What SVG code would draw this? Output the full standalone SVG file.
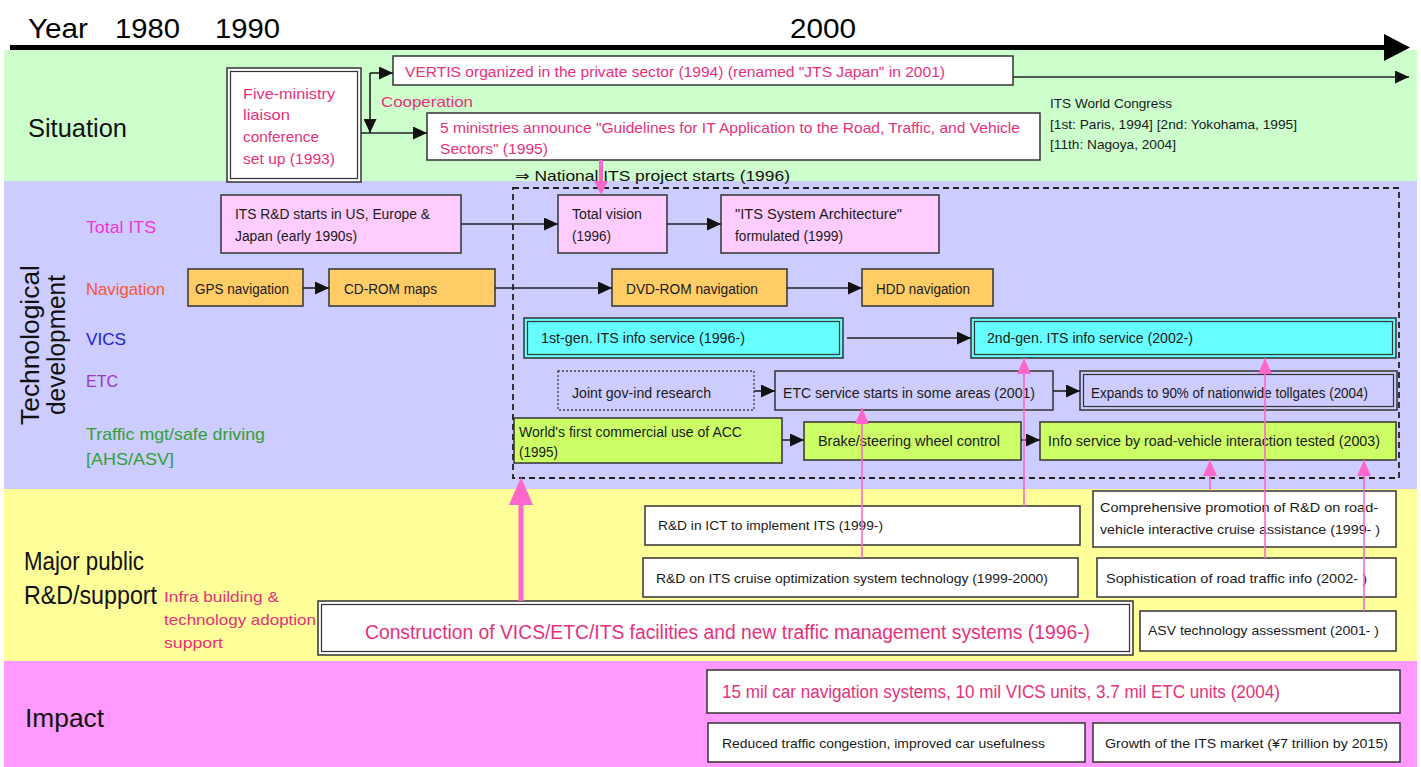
<svg xmlns="http://www.w3.org/2000/svg" width="1421" height="767" viewBox="0 0 1421 767">
  <defs>
    <style>
      text { font-family: "Liberation Sans", "DejaVu Sans", sans-serif; }
      .box { stroke: #333; stroke-width: 1.5; }
      .in { fill: none; stroke: #333; stroke-width: 1.2; }
      .w { fill: #fff; }
      .pk { fill: #ffccff; }
      .or { fill: #ffcc66; }
      .cy { fill: #66ffff; }
      .lv { fill: #ccccff; }
      .yg { fill: #ccff66; }
      .t { font-size: 14px; fill: #1a1a1a; }
      .ts { font-size: 13px; fill: #1a1a1a; }
      .pt { font-size: 15px; fill: #e8307c; }
      .head { font-size: 25px; fill: #111; }
      .row { font-size: 17px; }
      .conn { stroke: #222; stroke-width: 1.6; fill: none; }
      .pline { stroke: #ff66cc; stroke-width: 1.6; fill: none; }
      .phead { fill: #ff66cc; }
    </style>
    <marker id="ah" markerUnits="userSpaceOnUse" markerWidth="15" markerHeight="13" refX="14" refY="6.5" orient="auto">
      <path d="M0,0 L14,6.5 L0,13 Z" fill="#111"/>
    </marker>
    <marker id="pah" markerUnits="userSpaceOnUse" markerWidth="17" markerHeight="14" refX="16" refY="7" orient="auto">
      <path d="M0,0 L16,7 L0,14 Z" fill="#ff66cc"/>
    </marker>
  </defs>

  <!-- background bands -->
  <g id="bands">
    <rect x="0" y="0" width="1421" height="767" fill="#fff"/>
    <rect x="4" y="50" width="1413" height="131" fill="#ccffcc"/>
    <rect x="4" y="181" width="1413" height="308" fill="#ccccff"/>
    <rect x="4" y="489" width="1413" height="172" fill="#ffff99"/>
    <rect x="4" y="661" width="1413" height="106" fill="#ff99ff"/>
  </g>

  <!-- timeline axis -->
  <g id="timeline">
    <rect x="10" y="45" width="1376" height="5" fill="#000"/>
    <path d="M1384,34 L1410,47.5 L1384,61 Z" fill="#000"/>
    <text x="28" y="38" font-size="28" textLength="60" lengthAdjust="spacingAndGlyphs">Year</text>
    <text x="115" y="38" font-size="28" textLength="65" lengthAdjust="spacingAndGlyphs">1980</text>
    <text x="215" y="38" font-size="28" textLength="65" lengthAdjust="spacingAndGlyphs">1990</text>
    <text x="790" y="38" font-size="28" textLength="66" lengthAdjust="spacingAndGlyphs">2000</text>
  </g>

  <!-- band headings -->
  <g id="headings">
    <text class="head" x="28" y="137" textLength="99" lengthAdjust="spacingAndGlyphs">Situation</text>
    <text class="head" font-size="22" transform="translate(39,345) rotate(-90)" text-anchor="middle" textLength="160" lengthAdjust="spacingAndGlyphs">Technological</text>
    <text class="head" font-size="22" transform="translate(65,345) rotate(-90)" text-anchor="middle" textLength="140" lengthAdjust="spacingAndGlyphs">development</text>
    <text class="head" font-size="22" x="24" y="570" textLength="120" lengthAdjust="spacingAndGlyphs">Major public</text>
    <text class="head" font-size="22" x="24" y="604" textLength="133" lengthAdjust="spacingAndGlyphs">R&amp;D/support</text>
    <text class="head" x="25" y="727" textLength="79" lengthAdjust="spacingAndGlyphs">Impact</text>
  </g>

  <!-- row labels -->
  <g id="row-labels">
    <text class="row" x="86" y="233" fill="#ee33dd" textLength="70" lengthAdjust="spacingAndGlyphs">Total ITS</text>
    <text class="row" x="86" y="295" fill="#ff5533" textLength="79" lengthAdjust="spacingAndGlyphs">Navigation</text>
    <text class="row" x="86" y="345" fill="#2222cc" textLength="40" lengthAdjust="spacingAndGlyphs">VICS</text>
    <text class="row" x="86" y="387" fill="#9933cc" textLength="32" lengthAdjust="spacingAndGlyphs">ETC</text>
    <text class="row" x="86" y="440" fill="#33a033" textLength="179" lengthAdjust="spacingAndGlyphs">Traffic mgt/safe driving</text>
    <text class="row" x="86" y="465" fill="#33a033" textLength="88" lengthAdjust="spacingAndGlyphs">[AHS/ASV]</text>
    <text class="pt" x="164" y="602" textLength="115" lengthAdjust="spacingAndGlyphs">Infra building &amp;</text>
    <text class="pt" x="164" y="625" textLength="152" lengthAdjust="spacingAndGlyphs">technology adoption</text>
    <text class="pt" x="164" y="648" textLength="59" lengthAdjust="spacingAndGlyphs">support</text>
  </g>

  <!-- Situation -->
  <g id="five-ministry">
    <rect class="box w" x="227" y="68" width="134" height="114"/>
    <rect class="in" x="230.5" y="71.5" width="127" height="107"/>
    <text class="pt" x="243" y="99" textLength="92" lengthAdjust="spacingAndGlyphs">Five-ministry</text>
    <text class="pt" x="243" y="120" textLength="47" lengthAdjust="spacingAndGlyphs">liaison</text>
    <text class="pt" x="243" y="142" textLength="76" lengthAdjust="spacingAndGlyphs">conference</text>
    <text class="pt" x="243" y="164" textLength="92" lengthAdjust="spacingAndGlyphs">set up (1993)</text>
  </g>
  <g id="vertis">
    <rect class="box w" x="393" y="56" width="620" height="29"/>
    <text class="pt" x="405" y="77" textLength="540" lengthAdjust="spacingAndGlyphs">VERTIS organized in the private sector (1994) (renamed "JTS Japan" in 2001)</text>
  </g>
  <g id="cooperation">
    <text class="pt" x="381" y="107" textLength="92" lengthAdjust="spacingAndGlyphs">Cooperation</text>
  </g>
  <g id="guidelines">
    <rect class="box w" x="427" y="113" width="613" height="47"/>
    <text class="pt" x="440" y="133" textLength="580" lengthAdjust="spacingAndGlyphs">5 ministries announce "Guidelines for IT Application to the Road, Traffic, and Vehicle</text>
    <text class="pt" x="440" y="154" textLength="108" lengthAdjust="spacingAndGlyphs">Sectors" (1995)</text>
  </g>
  <g id="world-congress">
    <text class="ts" x="1050" y="108" textLength="122" lengthAdjust="spacingAndGlyphs">ITS World Congress</text>
    <text class="ts" x="1050" y="129" textLength="247" lengthAdjust="spacingAndGlyphs">[1st: Paris, 1994] [2nd: Yokohama, 1995]</text>
    <text class="ts" x="1050" y="149" textLength="126" lengthAdjust="spacingAndGlyphs">[11th: Nagoya, 2004]</text>
  </g>
  <g id="national-project">
    <text x="515" y="181" font-size="15" fill="#111" textLength="275" lengthAdjust="spacingAndGlyphs">⇒ National ITS project starts (1996)</text>
    <rect x="513" y="188" width="886" height="290" fill="none" stroke="#222" stroke-width="1.8" stroke-dasharray="6 4"/>
  </g>

  <!-- Technological development -->
  <g id="its-rd">
    <rect class="box pk" x="221" y="195" width="240" height="58"/>
    <text class="t" x="235" y="219" textLength="195" lengthAdjust="spacingAndGlyphs">ITS R&amp;D starts in US, Europe &amp;</text>
    <text class="t" x="235" y="241" textLength="122" lengthAdjust="spacingAndGlyphs">Japan (early 1990s)</text>
  </g>
  <g id="total-vision">
    <rect class="box pk" x="558" y="195" width="109" height="58"/>
    <text class="t" x="572" y="219" textLength="70" lengthAdjust="spacingAndGlyphs">Total vision</text>
    <text class="t" x="572" y="241" textLength="39" lengthAdjust="spacingAndGlyphs">(1996)</text>
  </g>
  <g id="architecture">
    <rect class="box pk" x="721" y="195" width="218" height="58"/>
    <text class="t" x="735" y="219" textLength="167" lengthAdjust="spacingAndGlyphs">"ITS System Architecture"</text>
    <text class="t" x="735" y="241" textLength="108" lengthAdjust="spacingAndGlyphs">formulated (1999)</text>
  </g>
  <g id="gps">
    <rect class="box or" x="188" y="269" width="115" height="37"/>
    <text class="t" x="195" y="294" textLength="94" lengthAdjust="spacingAndGlyphs">GPS navigation</text>
  </g>
  <g id="cdrom">
    <rect class="box or" x="329" y="269" width="166" height="37"/>
    <text class="t" x="344" y="294" textLength="93" lengthAdjust="spacingAndGlyphs">CD-ROM maps</text>
  </g>
  <g id="dvdrom">
    <rect class="box or" x="612" y="269" width="175" height="37"/>
    <text class="t" x="626" y="294" textLength="132" lengthAdjust="spacingAndGlyphs">DVD-ROM navigation</text>
  </g>
  <g id="hdd">
    <rect class="box or" x="862" y="269" width="131" height="37"/>
    <text class="t" x="876" y="294" textLength="94" lengthAdjust="spacingAndGlyphs">HDD navigation</text>
  </g>
  <g id="vics-1st">
    <rect class="box cy" x="524" y="318" width="319" height="40"/>
    <rect class="in" x="527.5" y="321.5" width="312" height="33"/>
    <text class="t" x="541" y="343" textLength="204" lengthAdjust="spacingAndGlyphs">1st-gen. ITS info service (1996-)</text>
  </g>
  <g id="vics-2nd">
    <rect class="box cy" x="971" y="318" width="425" height="40"/>
    <rect class="in" x="974.5" y="321.5" width="418" height="33"/>
    <text class="t" x="987" y="343" textLength="206" lengthAdjust="spacingAndGlyphs">2nd-gen. ITS info service (2002-)</text>
  </g>
  <g id="joint-research">
    <rect class="lv" x="558" y="371" width="196" height="39" stroke="#444" stroke-width="1.3" stroke-dasharray="2 2"/>
    <text class="t" x="572" y="398" textLength="139" lengthAdjust="spacingAndGlyphs">Joint gov-ind research</text>
  </g>
  <g id="etc-start">
    <rect class="box lv" x="775" y="371" width="278" height="39"/>
    <text class="t" x="783" y="398" textLength="252" lengthAdjust="spacingAndGlyphs">ETC service starts in some areas (2001)</text>
  </g>
  <g id="etc-expand">
    <rect class="box lv" x="1080" y="371" width="317" height="39"/>
    <rect class="in" x="1083.5" y="374.5" width="310" height="32"/>
    <text class="t" x="1091" y="398" textLength="277" lengthAdjust="spacingAndGlyphs">Expands to 90% of nationwide tollgates (2004)</text>
  </g>
  <g id="acc">
    <rect class="box yg" x="514" y="418" width="268" height="45"/>
    <text class="t" x="519" y="437" textLength="223" lengthAdjust="spacingAndGlyphs">World's first commercial use of ACC</text>
    <text class="t" x="519" y="457" textLength="39" lengthAdjust="spacingAndGlyphs">(1995)</text>
  </g>
  <g id="brake">
    <rect class="box yg" x="804" y="422" width="217" height="38"/>
    <text class="t" x="818" y="446" textLength="182" lengthAdjust="spacingAndGlyphs">Brake/steering wheel control</text>
  </g>
  <g id="road-vehicle">
    <rect class="box yg" x="1040" y="422" width="356" height="38"/>
    <text class="t" x="1048" y="446" textLength="332" lengthAdjust="spacingAndGlyphs">Info service by road-vehicle interaction tested (2003)</text>
  </g>

  <!-- Major public R&D / support -->
  <g id="rd-ict">
    <rect class="box w" x="645" y="506" width="435" height="39"/>
    <text class="ts" x="658" y="530" textLength="225" lengthAdjust="spacingAndGlyphs">R&amp;D in ICT to implement ITS (1999-)</text>
  </g>
  <g id="rd-cruise">
    <rect class="box w" x="643" y="558" width="435" height="39"/>
    <text class="ts" x="656" y="583" textLength="392" lengthAdjust="spacingAndGlyphs">R&amp;D on ITS cruise optimization system technology (1999-2000)</text>
  </g>
  <g id="rd-comprehensive">
    <rect class="box w" x="1093" y="491" width="303" height="56"/>
    <text class="ts" x="1100" y="512" textLength="278" lengthAdjust="spacingAndGlyphs">Comprehensive promotion of R&amp;D on road-</text>
    <text class="ts" x="1100" y="534" textLength="280" lengthAdjust="spacingAndGlyphs">vehicle interactive cruise assistance (1999- )</text>
  </g>
  <g id="rd-traffic-info">
    <rect class="box w" x="1097" y="558" width="299" height="39"/>
    <text class="ts" x="1106" y="583" textLength="261" lengthAdjust="spacingAndGlyphs">Sophistication of road traffic info (2002- )</text>
  </g>
  <g id="asv">
    <rect class="box w" x="1140" y="611" width="256" height="40"/>
    <text class="ts" x="1148" y="635" textLength="231" lengthAdjust="spacingAndGlyphs">ASV technology assessment (2001- )</text>
  </g>
  <g id="construction">
    <rect class="box w" x="318" y="601" width="815" height="54"/>
    <rect class="in" x="321.5" y="604.5" width="808" height="47"/>
    <text x="365" y="639" font-size="20" fill="#e8307c" textLength="725" lengthAdjust="spacingAndGlyphs">Construction of VICS/ETC/ITS facilities and new traffic management systems (1996-)</text>
  </g>

  <!-- Impact -->
  <g id="units">
    <rect class="box w" x="707" y="670" width="693" height="43"/>
    <text x="722" y="698" font-size="18" fill="#e8307c" textLength="558" lengthAdjust="spacingAndGlyphs">15 mil car navigation systems, 10 mil VICS units, 3.7 mil ETC units (2004)</text>
  </g>
  <g id="congestion">
    <rect class="box w" x="708" y="723" width="377" height="39"/>
    <text class="ts" x="722" y="748" textLength="323" lengthAdjust="spacingAndGlyphs">Reduced traffic congestion, improved car usefulness</text>
  </g>
  <g id="market">
    <rect class="box w" x="1093" y="723" width="307" height="39"/>
    <text class="ts" x="1105" y="748" textLength="283" lengthAdjust="spacingAndGlyphs">Growth of the ITS market (¥7 trillion by 2015)</text>
  </g>

  <!-- connectors -->
  <g id="connectors">
    <path class="conn" d="M361,133 L427,133" marker-end="url(#ah)"/>
    <path class="conn" d="M370,73 L370,133" marker-end="url(#ah)"/>
    <path class="conn" d="M370,73 L393,73" marker-end="url(#ah)"/>
    <path class="conn" d="M1013,77 L1409,77" marker-end="url(#ah)"/>
    <path class="conn" d="M461,224 L558,224" marker-end="url(#ah)"/>
    <path class="conn" d="M667,224 L721,224" marker-end="url(#ah)"/>
    <path class="conn" d="M303,288 L329,288" marker-end="url(#ah)"/>
    <path class="conn" d="M495,288 L612,288" marker-end="url(#ah)"/>
    <path class="conn" d="M787,288 L862,288" marker-end="url(#ah)"/>
    <path class="conn" d="M847,338 L971,338" marker-end="url(#ah)"/>
    <path class="conn" d="M754,391 L775,391" marker-end="url(#ah)"/>
    <path class="conn" d="M1053,391 L1080,391" marker-end="url(#ah)"/>
    <path class="conn" d="M782,440 L804,440" marker-end="url(#ah)"/>
    <path class="conn" d="M1021,440 L1040,440" marker-end="url(#ah)"/>

    <!-- pink support arrows -->
    <path d="M601,160 L601,183" stroke="#ff66cc" stroke-width="4" fill="none"/>
    <path class="phead" d="M594,181 L608,181 L601,195 Z"/>
    <path d="M521,601 L521,500" stroke="#ff66cc" stroke-width="5" fill="none"/>
    <path class="phead" d="M509,505 L533,505 L521,477 Z"/>
    <path class="pline" d="M862,558 L862,408" marker-end="url(#pah)"/>
    <path class="pline" d="M1024,506 L1024,358" marker-end="url(#pah)"/>
    <path class="pline" d="M1210,491 L1210,460" marker-end="url(#pah)"/>
    <path class="pline" d="M1265,558 L1265,358" marker-end="url(#pah)"/>
    <path class="pline" d="M1364,611 L1364,460" marker-end="url(#pah)"/>
  </g>
</svg>
